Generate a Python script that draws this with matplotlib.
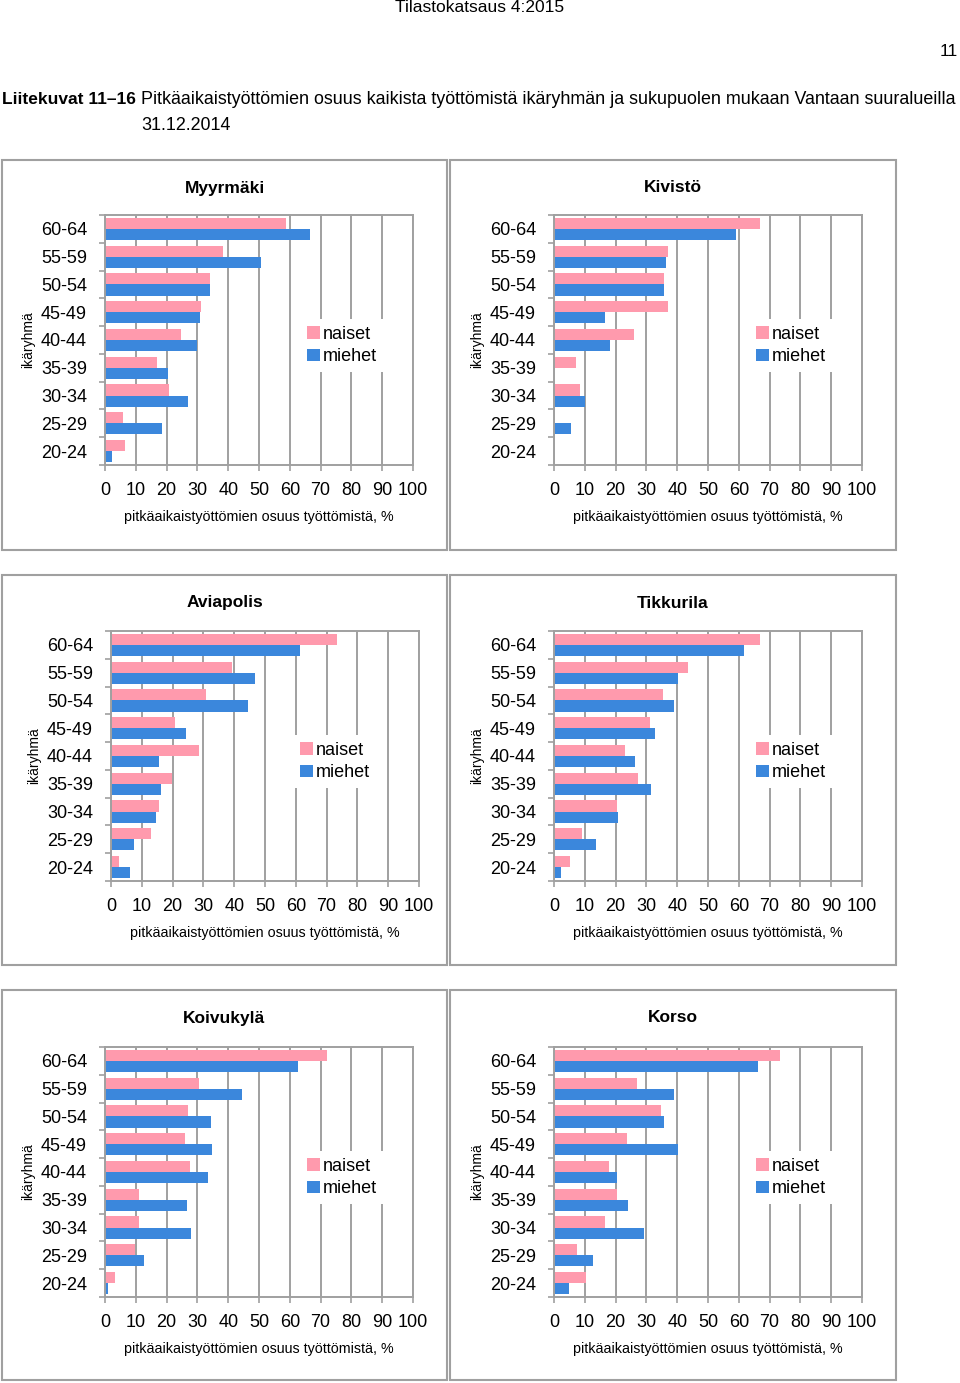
import numpy as np
import matplotlib
matplotlib.use("Agg")
import matplotlib.pyplot as plt
from matplotlib.patches import Rectangle

W, H = 960, 1383

ages = ["20-24", "25-29", "30-34", "35-39", "40-44", "45-49", "50-54", "55-59", "60-64"]

# arvot alhaalta ylös (20-24 ... 60-64)
myyrmaki_naiset = [6.4, 5.7, 20.9, 17.0, 24.8, 31.2, 34.2, 38.3, 58.8]
myyrmaki_miehet = [2.4, 18.4, 27.1, 20.6, 30.0, 30.7, 34.2, 50.7, 66.4]

kivisto_naiset = [0, 0, 8.4, 7.1, 25.9, 36.9, 35.7, 36.9, 66.9]
kivisto_miehet = [0, 5.6, 10.0, 0, 18.2, 16.7, 35.7, 36.5, 59.0]

aviapolis_naiset = [2.7, 12.9, 15.6, 19.7, 28.6, 20.8, 30.7, 39.4, 73.3]
aviapolis_miehet = [6.2, 7.6, 14.5, 16.1, 15.7, 24.4, 44.5, 46.6, 61.3]

tikkurila_naiset = [5.2, 9.1, 20.3, 27.3, 23.0, 31.2, 35.4, 43.5, 66.9]
tikkurila_miehet = [2.2, 13.6, 20.7, 31.5, 26.2, 32.7, 39.1, 40.4, 61.6]

koivukyla_naiset = [3.1, 9.8, 11.0, 11.1, 27.5, 26.0, 27.1, 30.6, 72.2]
koivukyla_miehet = [0.9, 12.6, 28.0, 26.7, 33.4, 34.7, 34.5, 44.4, 62.8]

korso_naiset = [10.3, 7.5, 16.7, 20.5, 18.0, 23.8, 34.7, 27.1, 73.3]
korso_miehet = [4.8, 12.5, 29.1, 24.0, 20.4, 40.4, 35.7, 39.1, 66.1]

PINK = "#ff9aad"
BLUE = "#3b87dc"
GRID = "#a0a0a0"
FONT = ["Liberation Sans", "DejaVu Sans"]

plt.rcParams["font.family"] = FONT

fig = plt.figure(figsize=(W / 100, H / 100), dpi=100)


def fig_rect(x0, y0, x1, y1):
    # pikselit (ylävasen origo) -> figure-koordinaatit
    return [x0 / W, 1 - y1 / H, (x1 - x0) / W, (y1 - y0) / H]


def panel(frame, axbox, name, naiset, miehet, leg_x):
    fx = fig_rect(*frame)
    fig.add_artist(Rectangle((fx[0], fx[1]), fx[2], fx[3], transform=fig.transFigure,
                             fill=False, edgecolor=GRID, lw=1.5))
    cx = (frame[0] + frame[2]) / 2
    fig.text(cx / W, 1 - (frame[1] + 28) / H, name, ha="center", va="center",
             fontsize=12.5, fontweight="bold")

    ax = fig.add_axes(fig_rect(*axbox))
    y = np.arange(len(ages))
    ax.barh(y + 0.2, naiset, height=0.4, color=PINK, label="naiset", zorder=2)
    ax.barh(y - 0.2, miehet, height=0.4, color=BLUE, label="miehet", zorder=2)

    ax.set_xlim(0, 100)
    ax.set_ylim(-0.5, len(ages) - 0.5)
    ax.set_xticks(range(0, 101, 10))
    ax.set_yticks(y)
    ax.set_yticklabels(ages)
    ax.set_yticks(np.arange(-0.5, len(ages), 1), minor=True)
    ax.tick_params(axis="y", which="major", length=0, pad=13, labelsize=13)
    ax.tick_params(axis="y", which="minor", length=4, color=GRID, width=1.2)
    ax.tick_params(axis="x", length=4, color=GRID, width=1.2, pad=8, labelsize=13)
    ax.grid(axis="x", color=GRID, lw=1.4, zorder=0)
    ax.set_axisbelow(True)
    for s in ax.spines.values():
        s.set_color(GRID)
        s.set_linewidth(1.4)

    ax.set_xlabel("pitkäaikaistyöttömien osuus työttömistä, %", fontsize=10.3)
    ax.xaxis.set_label_coords(0.5, -0.208)
    ax.xaxis.label.set_va("center")
    ax.set_ylabel("ikäryhmä", fontsize=10)
    ax.yaxis.set_label_coords(-0.25, 0.5)
    ax.yaxis.label.set_va("center")

    leg = ax.legend(loc="center left", bbox_to_anchor=(leg_x, 0.478), fontsize=13,
                    frameon=True, fancybox=False, edgecolor="none", framealpha=1,
                    handlelength=0.7, handleheight=0.7, handletextpad=0.15,
                    labelspacing=0.3, borderpad=0.4, borderaxespad=0)
    leg.set_zorder(5)
    return ax


# ylätunniste ja otsikko
fig.text(480 / W, 1 - 8 / H, "Tilastokatsaus 4:2015", ha="center", va="center", fontsize=12.5)
fig.text(958 / W, 1 - 52 / H, "11", ha="right", va="center", fontsize=12.5)
fig.text(2 / W, 1 - 100 / H, "Liitekuvat 11\u201316", ha="left", va="center",
         fontsize=12.5, fontweight="bold")
fig.text(141 / W, 1 - 100 / H,
         "Pitkäaikaistyöttömien osuus kaikista työttömistä ikäryhmän ja sukupuolen mukaan Vantaan suuralueilla",
         ha="left", va="center", fontsize=12.9)
fig.text(141 / W, 1 - 126 / H, "31.12.2014", ha="left", va="center", fontsize=12.9)

panel((2, 160, 447, 550), (105, 215, 413, 465), "Myyrmäki",
      myyrmaki_naiset, myyrmaki_miehet, 0.633)
panel((450, 160, 896, 550), (554, 215, 862, 465), "Kivistö",
      kivisto_naiset, kivisto_miehet, 0.633)
panel((2, 575, 447, 965), (111, 631, 419, 881), "Aviapolis",
      aviapolis_naiset, aviapolis_miehet, 0.591)
panel((450, 575, 896, 965), (554, 631, 862, 881), "Tikkurila",
      tikkurila_naiset, tikkurila_miehet, 0.633)
panel((2, 990, 447, 1380), (105, 1047, 413, 1297), "Koivukylä",
      koivukyla_naiset, koivukyla_miehet, 0.633)
panel((450, 990, 896, 1380), (554, 1047, 862, 1297), "Korso",
      korso_naiset, korso_miehet, 0.633)

fig.savefig("out.png", dpi=100)
